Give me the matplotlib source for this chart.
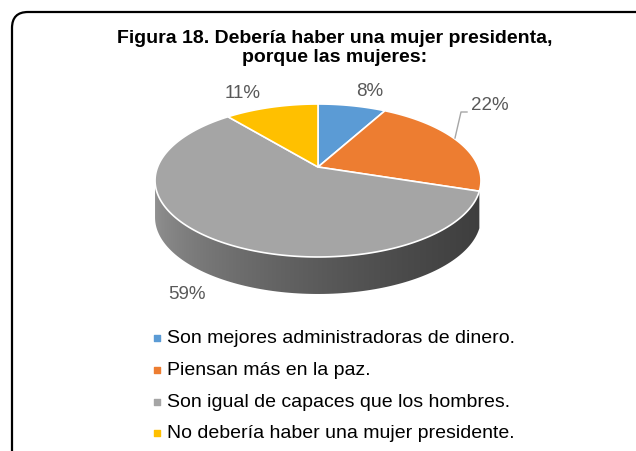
import numpy as np
import matplotlib
matplotlib.use('Agg')
import matplotlib.pyplot as plt
from matplotlib.patches import Polygon, FancyBboxPatch

plt.rcParams['font.family'] = ['Liberation Sans', 'DejaVu Sans']

# Data
categories = ['Son mejores administradoras de dinero.',
              'Piensan más en la paz.',
              'Son igual de capaces que los hombres.',
              'No debería haber una mujer presidente.']
values = [8, 22, 59, 11]
colors = ['#5b9bd5', '#ed7d31', '#a5a5a5', '#ffc000']
side_colors = [('#4a7fae', '#2f5a80'), ('#b35c22', '#8a4419'),
               ('#939393', '#3e3e3e'), ('#c79500', '#8f6b00')]
title = 'Figura 18. Debería haber una mujer presidenta,\nporque las mujeres:'

# Layout of the 3D pie (pixel coordinates)
W, H = 636, 452
cx, cy = 318, 168
A, B, k = 160.4, 74.1, 0.1765
depth = 37


def proj(theta, drop=0.0):
    u, v = np.cos(theta), np.sin(theta)
    d = 1 + k * v
    return cx + A * u / d, cy - B * v / d + drop


fig = plt.figure(figsize=(W / 100, H / 100), dpi=100)
ax = fig.add_axes([0, 0, 1, 1])
ax.set_xlim(0, W)
ax.set_ylim(H, 0)
ax.axis('off')

# rounded frame
ax.add_patch(FancyBboxPatch((12, 13), 640, 460, boxstyle='round,pad=0,rounding_size=16',
                            fc='white', ec='black', lw=1.6, zorder=0))

# slice angles, clockwise from 12 o'clock
total = sum(values)
starts, ends = [], []
a = np.pi / 2
for v in values:
    starts.append(a)
    a -= v / total * 2 * np.pi
    ends.append(a)

# visible side range (front half, between silhouette points)
s_lo = -np.pi + np.arcsin(k)
s_hi = -np.arcsin(k)

for i in range(len(values)):
    t0, t1 = ends[i], starts[i]
    for off in (0, -2 * np.pi, 2 * np.pi):
        lo = max(t0 + off, s_lo)
        hi = min(t1 + off, s_hi)
        # skip slivers hidden at the silhouette
        if hi - lo < 0.2:
            continue
        th = np.linspace(lo, hi, 120)
        top = [proj(t) for t in th]
        bot = [proj(t, depth) for t in th[::-1]]
        poly = Polygon(top + bot, closed=True, fc='none', ec='none')
        ax.add_patch(poly)
        c_left = np.array(matplotlib.colors.to_rgb(side_colors[i][0]))
        c_right = np.array(matplotlib.colors.to_rgb(side_colors[i][1]))
        gx = np.linspace(0, 1, 256) ** 0.6
        grad = np.array([[c_left * (1 - g) + c_right * g for g in gx]])
        ys = [p[1] for p in top + bot]
        im = ax.imshow(grad, extent=(cx - A * 1.02, cx + A * 1.02, max(ys), min(ys)),
                       aspect='auto', zorder=1, interpolation='bilinear')
        im.set_clip_path(poly)

# top faces
for i in range(len(values)):
    th = np.linspace(starts[i], ends[i], 150)
    pts = [(cx, cy)] + [proj(t) for t in th]
    ax.add_patch(Polygon(pts, closed=True, fc=colors[i], ec='white', lw=1.2,
                         joinstyle='round', zorder=2))

# data labels
label_pos = [(370, 92), (490, 105), (187, 295), (243, 94)]
for i, v in enumerate(values):
    ax.text(label_pos[i][0], label_pos[i][1], f'{v}%', fontsize=13.5, color='#595959',
            ha='center', va='center', zorder=3)
# leader line for the 22% label
ax.plot([455, 461, 467], [139, 113, 113], color='#a6a6a6', lw=1, zorder=3)

# title
ax.text(W / 2 + 17, 48, title, fontsize=14, fontweight='bold', ha='center', va='center',
        linespacing=1.22, color='black')

# legend
leg_y = [339, 371, 403, 434]
for i, c in enumerate(categories):
    ax.scatter(157, leg_y[i], marker='s', s=18, color=colors[i], zorder=3)
    ax.text(167, leg_y[i], c, fontsize=14, color='black', ha='left', va='center')

fig.savefig('out.png', dpi=100)
